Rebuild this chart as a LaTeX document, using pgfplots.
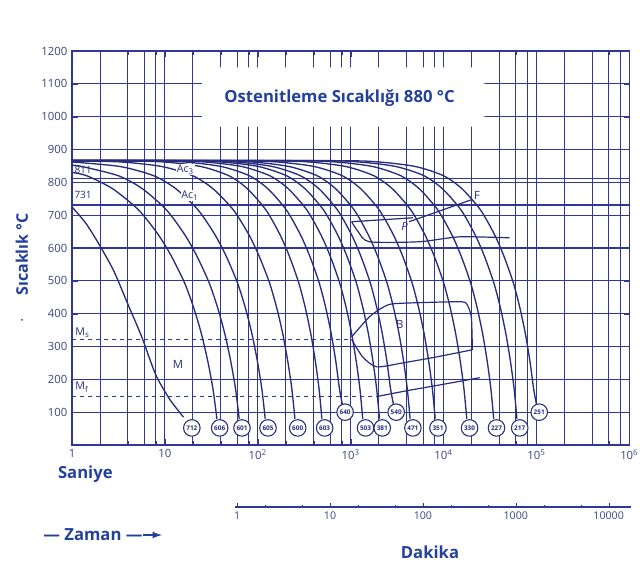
\documentclass[border=0pt]{standalone}
\usepackage{fontspec}
\setmainfont{Open Sans}
\usepackage{pgfplots}
\pgfplotsset{compat=1.18}
\definecolor{cb}{RGB}{48,56,150}
\definecolor{cc}{RGB}{40,44,125}
\definecolor{ct}{RGB}{35,65,155}
\definecolor{cg}{RGB}{60,68,135}
\begin{document}
\begin{tikzpicture}
\useasboundingbox (-54pt,-88.5pt) rectangle (427.5pt,333.75pt);
\begin{axis}[name=main, at={(0,0)}, anchor=south west, scale only axis,
  width=418pt, height=295.5pt,
  xmin=0, xmax=6, ymin=0, ymax=1200,
  xtick={0,1,2,3,4,5,6},
  xticklabels={1,10,10\textsuperscript{2},10\textsuperscript{3},10\textsuperscript{4},10\textsuperscript{5},10\textsuperscript{6}},
  minor xtick={0.301,0.602,0.778,0.903,1.301,1.602,1.778,1.903,2.301,2.602,2.778,2.903,3.301,3.602,3.778,3.903,4.301,4.602,4.778,4.903,5.301,5.602,5.778,5.903},
  ytick={100,200,...,1200},
  grid=both,
  major grid style={cb, line width=0.85pt},
  minor grid style={cb, line width=0.65pt},
  axis line style={cb, line width=1.1pt},
  tick style={cb},
  tick label style={cg, font=\fontsize{8.5}{10}\selectfont},
  /pgf/number format/assume math mode=true,
  /pgf/number format/set thousands separator={},
  clip=false,
]
% white title box
\addplot[fill=white, draw=none] coordinates {(1.40,970)(4.44,970)(4.44,1150)(1.40,1150)(1.40,970)};
% Ac lines
\addplot[cb, line width=0.8pt] coordinates {(0,811)(6,811)};
\addplot[cb, line width=0.8pt] coordinates {(0,731)(6,731)};
% Ms, Mf
\addplot[cb, dashed, line width=0.8pt] coordinates {(0,322)(3.01,322)};
\addplot[cb, dashed, line width=0.8pt] coordinates {(0,148)(3.29,148)};
% Bainite region
\addplot[cc, smooth, tension=0.4, line width=0.9pt] coordinates {(3.01,329)(3.20,390)(3.34,418)(3.45,430)(3.80,434)(4.20,436)(4.26,424)(4.30,387)(4.31,290)};
\addplot[cc, smooth, tension=0.4, line width=0.9pt] coordinates {(3.01,322)(3.13,268)(3.28,238)(3.56,250)(3.92,268)(4.31,290)};
\addplot[cc, smooth, tension=0.4, line width=0.9pt] coordinates {(3.29,148)(3.60,165)(4.00,185)(4.39,205)};
% Pearlite / ferrite
\addplot[cc, line width=0.9pt] coordinates {(3.01,680)(3.67,692)};
\addplot[cc, smooth, line width=0.9pt] coordinates {(3.63,680)(3.95,712)(4.30,747)};
\addplot[cc, smooth, tension=0.4, line width=0.9pt] coordinates {(3.01,680)(3.08,650)(3.20,619)(3.74,619)(4.17,634)(4.71,631)};
% cooling curves
\pgfplotsset{every axis plot/.append style={}}
\addplot[cc, smooth, tension=0.45, line width=1pt] coordinates {(0,725)(0.15,675)(0.3,607)(0.45,530)(0.6,430)(0.75,330)(0.9,215)(1.05,140)(1.2,85)};
\addplot[cc, smooth, tension=0.45, line width=1pt] coordinates {(0,830)(0.16,820)(0.44,780)(0.72,715)(0.93,640)(1.07,575)(1.21,495)(1.308,420)(1.392,340)(1.462,255)(1.518,170)(1.56,80)};
\addplot[cc, smooth, tension=0.45, line width=1pt] coordinates {(0,852)(0.11,848)(0.50,820)(0.76,780)(1.02,715)(1.215,640)(1.345,575)(1.475,495)(1.566,420)(1.644,340)(1.709,255)(1.761,170)(1.80,80)};
\addplot[cc, smooth, tension=0.45, line width=1pt] coordinates {(0,862)(0.52,848)(0.88,820)(1.12,780)(1.36,715)(1.54,640)(1.66,575)(1.78,495)(1.864,420)(1.936,340)(1.996,255)(2.044,170)(2.08,80)};
\addplot[cc, smooth, tension=0.45, line width=1pt] coordinates {(0,866)(0.53,862)(0.97,848)(1.30,820)(1.52,780)(1.74,715)(1.905,640)(2.015,575)(2.125,495)(2.202,420)(2.268,340)(2.323,255)(2.367,170)(2.40,80)};
\addplot[cc, smooth, tension=0.45, line width=1pt] coordinates {(0,866)(0.49,866)(0.99,862)(1.39,848)(1.69,820)(1.89,780)(2.09,715)(2.24,640)(2.34,575)(2.44,495)(2.51,420)(2.57,340)(2.62,255)(2.66,170)(2.69,80)};
\addplot[cc, smooth, tension=0.45, line width=1pt] coordinates {(0,866)(0.71,866)(1.21,862)(1.61,848)(1.91,820)(2.11,780)(2.31,715)(2.46,640)(2.56,575)(2.66,495)(2.73,420)(2.79,340)(2.84,255)(2.88,170)(2.91,125)};
\addplot[cc, smooth, tension=0.45, line width=1pt] coordinates {(0,866)(0.93,866)(1.43,862)(1.83,848)(2.13,820)(2.33,780)(2.53,715)(2.68,640)(2.78,575)(2.88,495)(2.95,420)(3.01,340)(3.06,255)(3.10,170)(3.13,80)};
\addplot[cc, smooth, tension=0.45, line width=1pt] coordinates {(0,866)(1.11,866)(1.61,862)(2.01,848)(2.31,820)(2.51,780)(2.71,715)(2.86,640)(2.96,575)(3.06,495)(3.13,420)(3.19,340)(3.24,255)(3.28,170)(3.31,80)};
\addplot[cc, smooth, tension=0.45, line width=1pt] coordinates {(0,866)(1.26,866)(1.76,862)(2.16,848)(2.46,820)(2.66,780)(2.86,715)(3.01,640)(3.11,575)(3.21,495)(3.28,420)(3.34,340)(3.39,255)(3.43,170)(3.46,125)};
\addplot[cc, smooth, tension=0.45, line width=1pt] coordinates {(0,866)(1.44,866)(1.94,862)(2.34,848)(2.64,820)(2.84,780)(3.04,715)(3.19,640)(3.29,575)(3.39,495)(3.46,420)(3.52,340)(3.57,255)(3.61,170)(3.64,80)};
\addplot[cc, smooth, tension=0.45, line width=1pt] coordinates {(0,866)(1.71,866)(2.21,862)(2.61,848)(2.91,820)(3.11,780)(3.31,715)(3.46,640)(3.56,575)(3.66,495)(3.73,420)(3.79,340)(3.84,255)(3.88,170)(3.91,80)};
\addplot[cc, smooth, tension=0.45, line width=1pt] coordinates {(0,866)(2.05,866)(2.55,862)(2.95,848)(3.25,820)(3.45,780)(3.65,715)(3.80,640)(3.90,575)(4.00,495)(4.07,420)(4.13,340)(4.18,255)(4.22,170)(4.25,80)};
\addplot[cc, smooth, tension=0.45, line width=1pt] coordinates {(0,866)(2.34,866)(2.84,862)(3.24,848)(3.54,820)(3.74,780)(3.94,715)(4.09,640)(4.19,575)(4.29,495)(4.36,420)(4.42,340)(4.47,255)(4.51,170)(4.54,80)};
\addplot[cc, smooth, tension=0.45, line width=1pt] coordinates {(0,866)(2.59,866)(3.09,862)(3.49,848)(3.79,820)(3.99,780)(4.19,715)(4.34,640)(4.44,575)(4.54,495)(4.61,420)(4.67,340)(4.72,255)(4.76,170)(4.79,80)};
\addplot[cc, smooth, tension=0.45, line width=1pt] coordinates {(0,866)(2.80,866)(3.30,862)(3.70,848)(4.00,820)(4.20,780)(4.40,715)(4.55,640)(4.65,575)(4.75,495)(4.82,420)(4.88,340)(4.93,255)(4.97,170)(5.00,125)};
% hardness circles
\addplot[only marks, mark=*, mark size=6.2pt,
  mark options={fill=white, draw=cc, line width=0.8pt},
  nodes near coords, point meta=explicit symbolic,
  nodes near coords style={anchor=center, inner sep=0pt, text=cc, font=\bfseries\fontsize{4.8}{5}\selectfont}]
  table[meta=lab] {
x y lab
1.29 52 712
1.59 52 606
1.83 52 601
2.11 52 605
2.43 52 600
2.72 52 603
2.94 100 640
3.16 52 503
3.34 52 381
3.49 100 540
3.67 52 471
3.94 52 351
4.28 52 330
4.57 52 227
4.82 52 217
5.03 100 251
};
% labels inside
\node[ct, font=\bfseries\fontsize{12.5}{14}\selectfont] at (axis cs:2.88,1058) {Ostenitleme Sıcaklığı 880 °C};
\node[cc, anchor=west, font=\fontsize{7.5}{8}\selectfont, inner sep=1pt] at (axis cs:0.01,838) {811};
\node[cc, anchor=west, font=\fontsize{7.5}{8}\selectfont, inner sep=1pt] at (axis cs:0.01,762) {731};
\node[cc, font=\fontsize{8}{9}\selectfont, fill=white, inner sep=0.5pt] at (axis cs:1.22,838) {Ac\textsubscript{3}};
\node[cc, font=\fontsize{8}{9}\selectfont, fill=white, inner sep=0.5pt] at (axis cs:1.27,760) {Ac\textsubscript{1}};
\node[cc, anchor=west, font=\fontsize{8}{9}\selectfont, inner sep=1pt] at (axis cs:0.02,342) {M\textsubscript{s}};
\node[cc, anchor=west, font=\fontsize{8}{9}\selectfont, inner sep=1pt] at (axis cs:0.02,176) {M\textsubscript{f}};
\node[cc, font=\fontsize{8.5}{9}\selectfont] at (axis cs:1.14,244) {M};
\node[cc, font=\itshape\fontsize{8.5}{9}\selectfont] at (axis cs:3.58,665) {P};
\node[cc, font=\fontsize{8.5}{9}\selectfont] at (axis cs:3.53,366) {B};
\node[cc, font=\fontsize{8.5}{9}\selectfont] at (axis cs:4.36,760) {F};
\end{axis}
% minutes axis
\begin{axis}[at={(121.9pt,-46.5pt)}, anchor=south west, scale only axis,
  width=297.47pt, height=1pt,
  xmin=1.75, xmax=6.02, ymin=0, ymax=1,
  hide y axis, axis x line*=bottom,
  x axis line style={cb, line width=0.9pt, -},
  xtick={1.778,2.778,3.778,4.778,5.778},
  xticklabels={1,10,100,1000,10000},
  minor xtick={2.079,2.477,3.079,3.477,4.079,4.477,5.079,5.477},
  tick style={cb}, major tick length=3pt, minor tick length=1.5pt,
  tick label style={cg, font=\fontsize{8}{9}\selectfont},
  /pgf/number format/assume math mode=true,
]
\addplot[draw=none] coordinates {(2,0.5)};
\end{axis}
\node[ct, rotate=90, font=\bfseries\fontsize{12}{14}\selectfont] at (-37.5pt,143pt) {Sıcaklık °C};
\node[ct, font=\fontsize{11}{12}\selectfont] at (-37.5pt,92pt) {·};
\node[ct, anchor=west, font=\bfseries\fontsize{12.5}{14}\selectfont] at (-14pt,-22pt) {Saniye};
\node[ct, anchor=west, font=\bfseries\fontsize{12.5}{14}\selectfont] (zam) at (-25pt,-67.5pt) {— Zaman —};
\draw[ct, line width=1.4pt, -latex] (zam.east) ++(-3pt,0) -- ++(14pt,0);
\node[ct, font=\bfseries\fontsize{12.5}{14}\selectfont] at (268.5pt,-80.25pt) {Dakika};
\end{tikzpicture}
\end{document}
